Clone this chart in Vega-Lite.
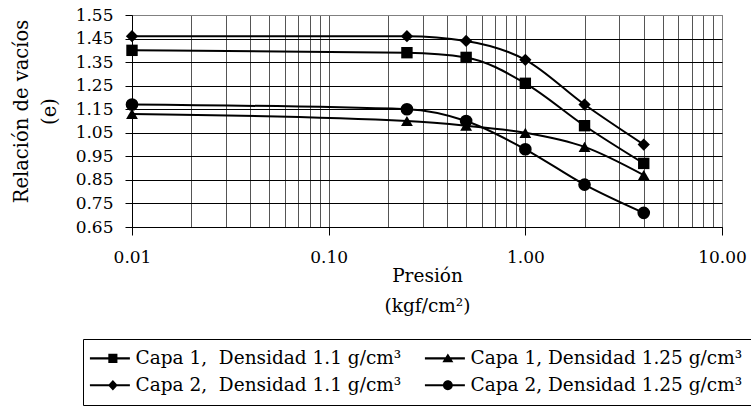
{
  "$schema": "https://vega.github.io/schema/vega-lite/v6.json",
  "width": 590,
  "height": 212,
  "autosize": {"type": "none"},
  "padding": {"left": 132, "top": 15, "right": 29, "bottom": 184},
  "background": "white",
  "config": {
    "font": "DejaVu Serif",
    "view": {"stroke": "#808080", "strokeWidth": 1}
  },
  "data": {
    "values": [
      {"series": "Capa 1,\u00a0 Densidad 1.1 g/cm³", "p": 0.01, "e": 1.40},
      {"series": "Capa 1,\u00a0 Densidad 1.1 g/cm³", "p": 0.25, "e": 1.39},
      {"series": "Capa 1,\u00a0 Densidad 1.1 g/cm³", "p": 0.5, "e": 1.37},
      {"series": "Capa 1,\u00a0 Densidad 1.1 g/cm³", "p": 1, "e": 1.26},
      {"series": "Capa 1,\u00a0 Densidad 1.1 g/cm³", "p": 2, "e": 1.08},
      {"series": "Capa 1,\u00a0 Densidad 1.1 g/cm³", "p": 4, "e": 0.92},
      {"series": "Capa 1, Densidad 1.25 g/cm³", "p": 0.01, "e": 1.13},
      {"series": "Capa 1, Densidad 1.25 g/cm³", "p": 0.25, "e": 1.10},
      {"series": "Capa 1, Densidad 1.25 g/cm³", "p": 0.5, "e": 1.08},
      {"series": "Capa 1, Densidad 1.25 g/cm³", "p": 1, "e": 1.05},
      {"series": "Capa 1, Densidad 1.25 g/cm³", "p": 2, "e": 0.99},
      {"series": "Capa 1, Densidad 1.25 g/cm³", "p": 4, "e": 0.87},
      {"series": "Capa 2,\u00a0 Densidad 1.1 g/cm³", "p": 0.01, "e": 1.46},
      {"series": "Capa 2,\u00a0 Densidad 1.1 g/cm³", "p": 0.25, "e": 1.46},
      {"series": "Capa 2,\u00a0 Densidad 1.1 g/cm³", "p": 0.5, "e": 1.44},
      {"series": "Capa 2,\u00a0 Densidad 1.1 g/cm³", "p": 1, "e": 1.36},
      {"series": "Capa 2,\u00a0 Densidad 1.1 g/cm³", "p": 2, "e": 1.17},
      {"series": "Capa 2,\u00a0 Densidad 1.1 g/cm³", "p": 4, "e": 1.00},
      {"series": "Capa 2, Densidad 1.25 g/cm³", "p": 0.01, "e": 1.17},
      {"series": "Capa 2, Densidad 1.25 g/cm³", "p": 0.25, "e": 1.15},
      {"series": "Capa 2, Densidad 1.25 g/cm³", "p": 0.5, "e": 1.10},
      {"series": "Capa 2, Densidad 1.25 g/cm³", "p": 1, "e": 0.98},
      {"series": "Capa 2, Densidad 1.25 g/cm³", "p": 2, "e": 0.83},
      {"series": "Capa 2, Densidad 1.25 g/cm³", "p": 4, "e": 0.71}
    ]
  },
  "encoding": {
    "x": {
      "field": "p",
      "type": "quantitative",
      "scale": {"type": "log", "domain": [0.01, 10], "nice": false},
      "axis": {
        "values": [0.01, 0.02, 0.03, 0.04, 0.05, 0.06, 0.07, 0.08, 0.09, 0.1, 0.2, 0.3, 0.4, 0.5, 0.6, 0.7, 0.8, 0.9, 1, 2, 3, 4, 5, 6, 7, 8, 9, 10],
        "labelExpr": "indexof([0.01, 0.1, 1, 10], datum.value) >= 0 ? format(datum.value, '.2f') : ''",
        "labelOverlap": false,
        "labelFlush": false,
        "labelBound": false,
        "labelFontSize": 17,
        "labelColor": "black",
        "labelBaseline": "alphabetic",
        "labelPadding": 27,
        "tickSize": 8,
        "tickColor": "black",
        "tickOpacity": {"condition": {"test": "indexof([0.01, 0.1, 1, 10], datum.value) >= 0", "value": 1}, "value": 0},
        "domainColor": "black",
        "grid": true,
        "gridColor": {"condition": {"test": "datum.value >= 9.5", "value": "#808080"}, "value": "#555555"},
        "gridOpacity": 1,
        "title": ["Presión", "(kgf/cm²)"],
        "titleFontSize": 18.5,
        "titleFontWeight": "normal",
        "titleColor": "black",
        "titleBaseline": "alphabetic",
        "titleAlign": "center",
        "titleX": 295,
        "titleY": 54,
        "titleLineHeight": 30
      }
    },
    "y": {
      "field": "e",
      "type": "quantitative",
      "scale": {"domain": [0.65, 1.55], "nice": false, "zero": false},
      "axis": {
        "values": [0.65, 0.75, 0.85, 0.95, 1.05, 1.15, 1.25, 1.35, 1.45, 1.55],
        "format": ".2f",
        "labelFontSize": 17,
        "labelColor": "black",
        "labelPadding": 12,
        "tickSize": 7,
        "tickColor": "black",
        "domainColor": "black",
        "grid": true,
        "gridColor": {"condition": {"test": "datum.value > 1.5", "value": "#808080"}, "value": "black"},
        "gridOpacity": 1,
        "title": ["Relación de vacíos", "(e)"],
        "titleFontSize": 19.5,
        "titleFontWeight": "normal",
        "titleColor": "black",
        "titleAngle": -90,
        "titleAlign": "center",
        "titleBaseline": "alphabetic",
        "titleX": -105,
        "titleY": 96,
        "titleLineHeight": 28
      }
    }
  },
  "layer": [
    {
      "mark": {"type": "line", "color": "black", "strokeWidth": 2, "interpolate": "monotone"},
      "encoding": {"detail": {"field": "series"}}
    },
    {
      "mark": {"type": "point", "filled": true, "color": "black", "opacity": 1},
      "encoding": {
        "shape": {
          "field": "series",
          "scale": {
            "domain": ["Capa 1,\u00a0 Densidad 1.1 g/cm³", "Capa 1, Densidad 1.25 g/cm³", "Capa 2,\u00a0 Densidad 1.1 g/cm³", "Capa 2, Densidad 1.25 g/cm³"],
            "range": ["square", "triangle-up", "diamond", "circle"]
          },
          "legend": null
        },
        "size": {
          "field": "series",
          "scale": {
            "domain": ["Capa 1,\u00a0 Densidad 1.1 g/cm³", "Capa 1, Densidad 1.25 g/cm³", "Capa 2,\u00a0 Densidad 1.1 g/cm³", "Capa 2, Densidad 1.25 g/cm³"],
            "range": [130, 160, 170, 120]
          },
          "legend": null
        }
      }
    },
    {
      "mark": {"type": "point", "filled": true, "color": "black", "opacity": 0},
      "encoding": {
        "shape": {
          "field": "series",
          "scale": {
            "domain": ["Capa 1,\u00a0 Densidad 1.1 g/cm³", "Capa 1, Densidad 1.25 g/cm³", "Capa 2,\u00a0 Densidad 1.1 g/cm³", "Capa 2, Densidad 1.25 g/cm³"],
            "range": [
              "M-1.95,-0.16H4.37V0.16H-1.95ZM0.96,-0.72H2.4V0.72H0.96Z",
              "M-1.95,-0.16H4.37V0.16H-1.95ZM1.68,-0.78L2.55,0.62H0.81Z",
              "M-1.95,-0.16H4.37V0.16H-1.95ZM1.68,-0.82L2.45,0L1.68,0.82L0.91,0Z",
              "M-1.95,-0.16H4.37V0.16H-1.95ZM0.9,0A0.78,0.78 0 1,1 2.46,0A0.78,0.78 0 1,1 0.9,0Z"
            ]
          },
          "legend": {
            "orient": "none",
            "legendX": -49,
            "legendY": 324,
            "title": null,
            "columns": 2,
            "direction": "horizontal",
            "labelFontSize": 18.5,
            "labelColor": "black",
            "labelOffset": 24,
            "labelLimit": 500,
            "symbolSize": 160,
            "symbolOpacity": 1,
            "symbolFillColor": "black",
            "strokeColor": "black",
            "padding": 10,
            "columnPadding": 19,
            "rowPadding": 8,
            "encode": {
              "symbols": {
                "fill": {"value": "black"},
                "opacity": {"value": 1}
              }
            }
          }
        }
      }
    }
  ],
  "resolve": {"scale": {"shape": "independent"}}
}
